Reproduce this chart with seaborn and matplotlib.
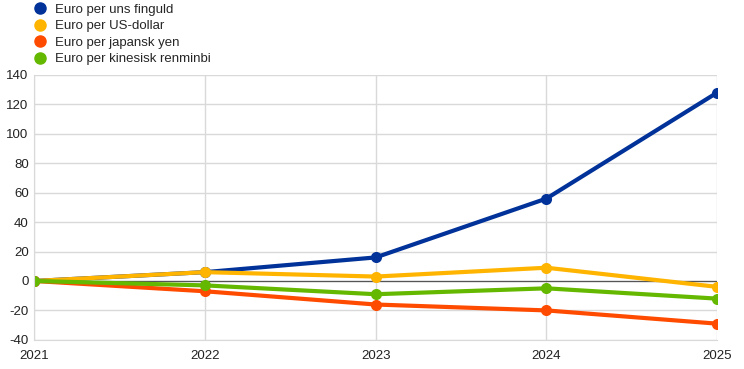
import pandas as pd
import matplotlib
matplotlib.use('Agg')
import matplotlib.pyplot as plt
import seaborn as sns

# Data
years = [2021, 2022, 2023, 2024, 2025]
gold = [0, 6, 16, 56, 128]
usd = [0, 6, 3, 9, -4]
jpy = [0, -7, -16, -20, -29]
cny = [0, -3, -9, -5, -12]

series_names = ['Euro per uns finguld', 'Euro per US-dollar',
                'Euro per japansk yen', 'Euro per kinesisk renminbi']
colors = ['#003299', '#FFB400', '#FF4B00', '#65B800']

df = pd.DataFrame({'year': years * 4,
                   'value': gold + usd + jpy + cny,
                   'series': [s for s in series_names for _ in years]})

sns.set_style('white')
plt.rcParams['font.family'] = ['Liberation Sans', 'DejaVu Sans']
plt.rcParams['axes.unicode_minus'] = False

fig = plt.figure(figsize=(7.44, 3.69), dpi=100)
ax = fig.add_axes([0.046, 0.079, 0.918, 0.718])

sns.lineplot(data=df, x='year', y='value', hue='series', hue_order=series_names,
             palette=colors, marker='o', markersize=8, markeredgewidth=0,
             linewidth=3, ax=ax, legend=False)

ax.axhline(0, color='#555555', linewidth=0.9, zorder=1)
ax.set_xlim(2021, 2025)
ax.set_ylim(-40, 140)
ax.set_xticks(years)
ax.set_yticks(range(-40, 141, 20))
ax.grid(True, color='#d9d9d9', linewidth=1)
ax.set_axisbelow(True)
for s in ax.spines.values():
    s.set_visible(False)
ax.spines['left'].set_visible(True)
ax.spines['left'].set_color('#d9d9d9')
ax.spines['bottom'].set_visible(True)
ax.spines['bottom'].set_color('#d9d9d9')
ax.tick_params(length=0, labelsize=9.5, colors='#222222')
ax.tick_params(axis='x', pad=7)
ax.tick_params(axis='y', pad=4)
ax.set_xlabel('')
ax.set_ylabel('')

# legend at the top left
handles = [plt.Line2D([], [], marker='o', color=c, linestyle='', markersize=8)
           for c in colors]
fig.legend(handles, series_names, loc='upper left', bbox_to_anchor=(0.0333, 1.004),
           frameon=False, fontsize=9.5, handletextpad=0.4, labelspacing=0.32,
           borderaxespad=0.0, handlelength=1.5)

fig.savefig('out.png', dpi=100)
